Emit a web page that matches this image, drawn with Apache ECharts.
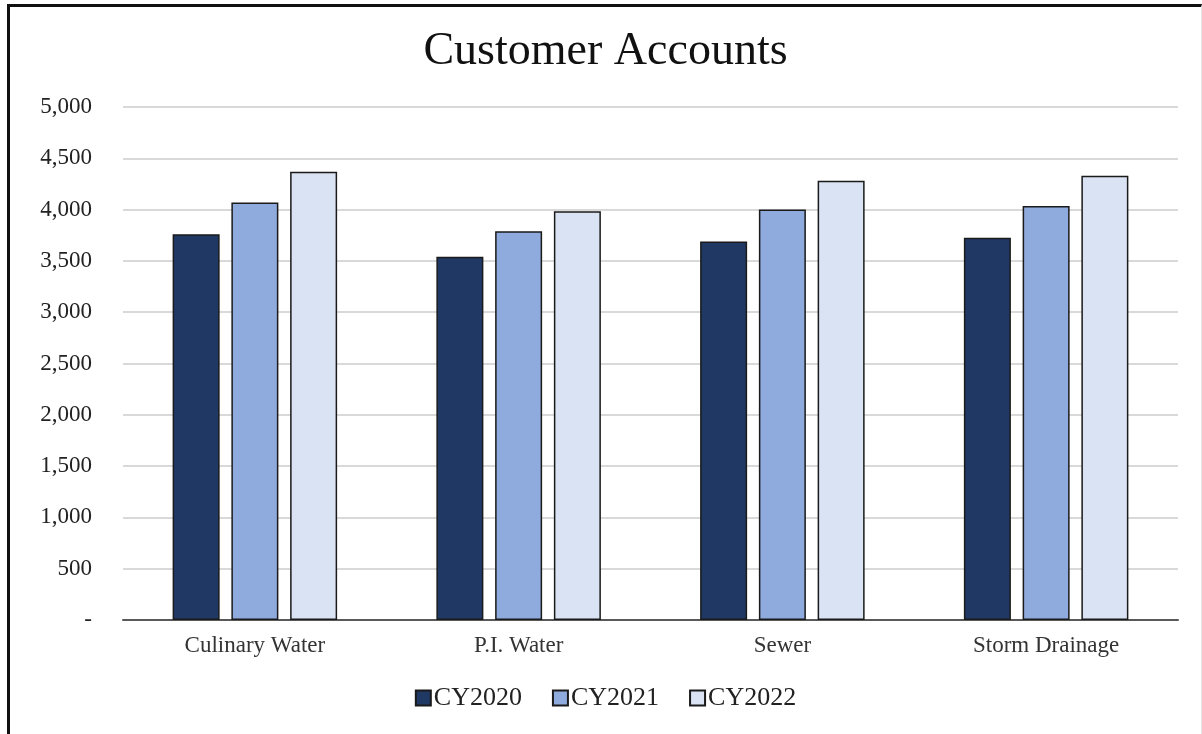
<!DOCTYPE html>
<html>
<head>
<meta charset="utf-8">
<title>Customer Accounts</title>
<script src="https://cdn.jsdelivr.net/npm/echarts@6/dist/echarts.min.js"></script>
<style>
  html, body { margin: 0; padding: 0; background: #fff; }
  #chart {
    position: absolute; left: 7px; top: 4px; width: 1191px; height: 729px;
    border-left: 3px solid #111; border-top: 3px solid #111;
    border-right: 1px solid #e6e6e6; border-bottom: 1px solid #e6e6e6;
  }
</style>
</head>
<body>
<div id="chart"></div>
<script>
const categories = ['Culinary Water', 'P.I. Water', 'Sewer', 'Storm Drainage']
const seriesNames = ['CY2020', 'CY2021', 'CY2022']
const cy2020 = [3760, 3540, 3690, 3725]
const cy2021 = [4070, 3790, 4000, 4035]
const cy2022 = [4370, 3985, 4280, 4330]
const colors = ['#203864', '#8FAADC', '#DAE3F3']

const font = '"Liberation Serif", "DejaVu Serif", serif'
const chart = echarts.init(document.getElementById('chart'))

const values = [cy2020, cy2021, cy2022]
const series = seriesNames.map((name, i) => ({
  name,
  type: 'bar',
  data: values[i],
  barWidth: 47,
  barGap: '25%',
  itemStyle: { color: colors[i], borderColor: '#1a1a1a', borderWidth: 1.5 }
}))

const option = {
  animation: false,
  title: {
    text: 'Customer Accounts',
    left: 'center',
    top: 17,
    textStyle: { fontFamily: font, fontSize: 46, fontWeight: 'normal', color: '#111' }
  },
  legend: {
    data: seriesNames,
    bottom: 20,
    left: 'center',
    itemWidth: 15,
    itemHeight: 15,
    itemGap: 30,
    icon: 'rect',
    textStyle: { fontFamily: font, fontSize: 26, color: '#222', padding: [0, 0, 0, -2] }
  },
  grid: { left: 113, right: 23, top: 100, bottom: 116 },
  xAxis: {
    type: 'category',
    data: categories,
    axisLine: { lineStyle: { color: '#595959', width: 2 } },
    axisTick: { show: false },
    axisLabel: { fontFamily: font, fontSize: 23, color: '#333', margin: 14 }
  },
  yAxis: {
    type: 'value',
    min: 0,
    max: 5000,
    interval: 500,
    axisLine: { show: false },
    axisTick: { show: false },
    splitLine: { lineStyle: { color: '#d9d9d9', width: 2 } },
    axisLabel: {
      fontFamily: font, fontSize: 23, color: '#222', margin: 31,
      formatter: v => v === 0 ? '-' : v.toLocaleString('en-US')
    }
  },
  series
}
chart.setOption(option)
</script>
</body>
</html>
